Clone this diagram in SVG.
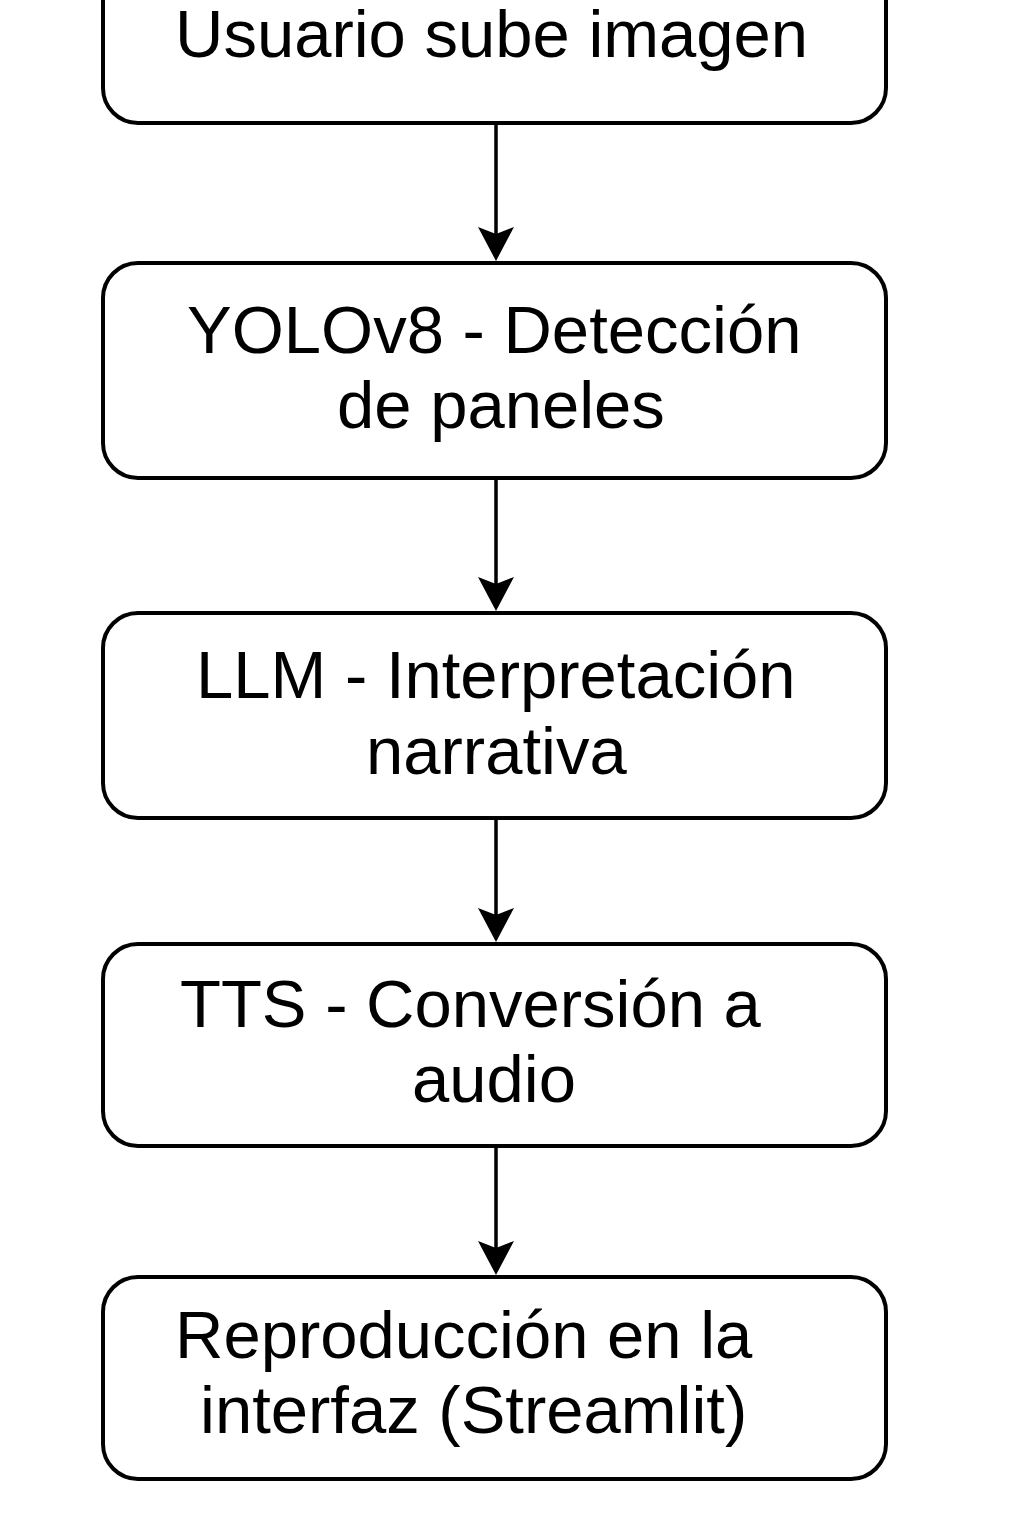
<svg xmlns="http://www.w3.org/2000/svg" width="1024" height="1536" viewBox="0 0 1024 1536">
<style>
.box{fill:#fff;stroke:#000;stroke-width:4}
.lbl{font-family:"Liberation Sans",Arial,sans-serif;font-size:67px;fill:#000}
.edge{stroke:#000;stroke-width:3.5;fill:none}
.head{fill:#000;stroke:none}
</style>
<rect width="1024" height="1536" fill="#fff"/>
<g id="n1">
<rect class="box" x="103" y="-100" width="783" height="223" rx="35"/>
<text class="lbl" x="175" y="57">Usuario sube imagen</text>
</g>
<g id="n2">
<rect class="box" x="103" y="263" width="783" height="215" rx="35"/>
<text class="lbl" x="187" y="353">YOLOv8 - Detección</text>
<text class="lbl" x="337" y="428">de paneles</text>
</g>
<g id="n3">
<rect class="box" x="103" y="613" width="783" height="205" rx="35"/>
<text class="lbl" x="196" y="698">LLM - Interpretación</text>
<text class="lbl" x="366" y="774">narrativa</text>
</g>
<g id="n4">
<rect class="box" x="103" y="944" width="783" height="202" rx="35"/>
<text class="lbl" x="180" y="1027">TTS - Conversión a</text>
<text class="lbl" x="412" y="1102">audio</text>
</g>
<g id="n5">
<rect class="box" x="103" y="1277" width="783" height="202" rx="35"/>
<text class="lbl" x="175" y="1358">Reproducción en la</text>
<text class="lbl" x="200" y="1433">interfaz (Streamlit)</text>
</g>
<g id="connectors">
<line class="edge" x1="496" y1="125" x2="496" y2="236"/>
<polygon class="head" points="496,261 478,227 496,234 514,227"/>
<line class="edge" x1="496" y1="480" x2="496" y2="586"/>
<polygon class="head" points="496,611 478,577 496,584 514,577"/>
<line class="edge" x1="496" y1="820" x2="496" y2="917"/>
<polygon class="head" points="496,942 478,908 496,915 514,908"/>
<line class="edge" x1="496" y1="1148" x2="496" y2="1250"/>
<polygon class="head" points="496,1275 478,1241 496,1248 514,1241"/>
</g>
</svg>
